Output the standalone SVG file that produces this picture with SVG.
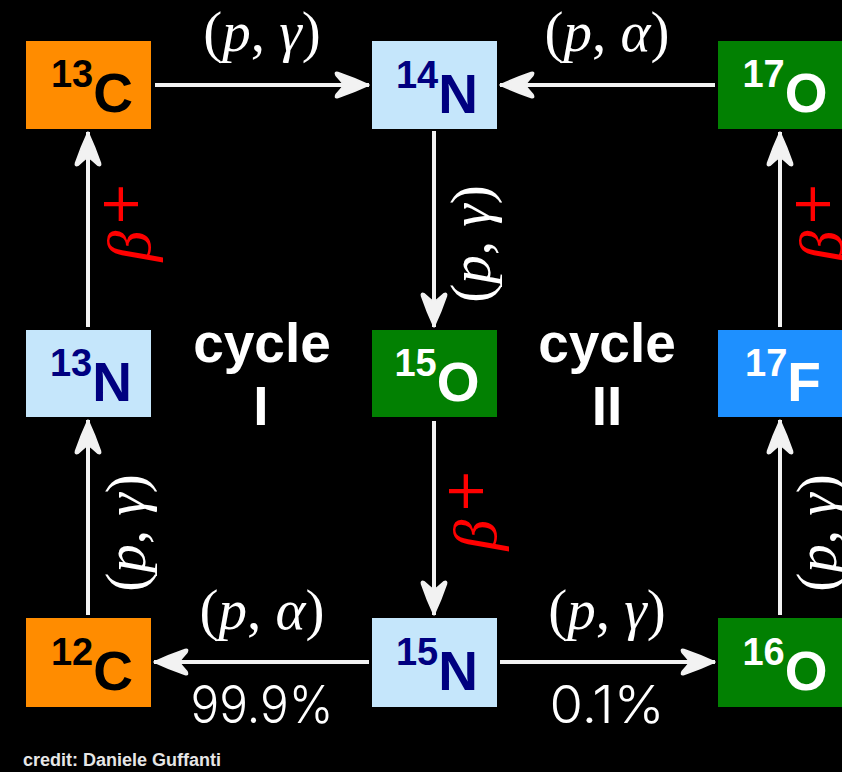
<svg xmlns="http://www.w3.org/2000/svg" width="842" height="772" viewBox="0 0 842 772">
<style>
.box-c{fill:#FF8C00}
.box-n{fill:#C5E6FB}
.box-o{fill:#028002}
.box-f{fill:#1E90FF}
.iso{font-family:"Liberation Sans",Arial,sans-serif;font-weight:bold;text-anchor:middle}
.sup{font-size:38px}
.el{font-size:55px}
.edge{stroke:#F2F2F2;stroke-width:4;fill:none;marker-end:url(#ah)}
.math{font-family:"Liberation Serif","Times New Roman",serif;font-size:57px;fill:#FFFFFF;text-anchor:middle}
.beta{font-family:"Liberation Serif","Times New Roman",serif;font-style:italic;font-size:62px;fill:#FF0000;text-anchor:middle}
.plus{font-family:"DejaVu Serif",serif;font-size:54px;fill:#FF0000;text-anchor:middle}
.cyc{font-family:"Liberation Sans",Arial,sans-serif;font-weight:bold;font-size:55px;fill:#FFFFFF;text-anchor:middle}
.pct{font-family:Inter,"Liberation Sans",sans-serif;font-weight:300;font-size:52px;fill:#FFFFFF;text-anchor:middle}
.credit{font-family:"Liberation Sans",Arial,sans-serif;font-weight:bold;font-size:18px;fill:#E6E6E6}
</style>
<defs>
<marker id="ah" markerUnits="userSpaceOnUse" viewBox="-37 -15 39 30" refX="0" refY="0" markerWidth="39" markerHeight="30" orient="auto" overflow="visible">
<path d="M0,0 Q-15,-7 -31,-12.5 Q-35,-13.5 -33,-9.5 Q-28,-4 -25,0 Q-28,4 -33,9.5 Q-35,13.5 -31,12.5 Q-15,7 0,0 Z" fill="#F2F2F2" stroke="#F2F2F2" stroke-width="1.5" stroke-linejoin="round"/>
</marker>
</defs>
<rect x="0" y="0" width="842" height="772" fill="#000000"/>

<g id="connectors">
<path class="edge" d="M155,85 L369,85"/>
<path class="edge" d="M715,85 L500,85"/>
<path class="edge" d="M434,131 L434,327"/>
<path class="edge" d="M434,421 L434,615"/>
<path class="edge" d="M369,662 L154,662"/>
<path class="edge" d="M500,662 L715,662"/>
<path class="edge" d="M88,615 L88,420"/>
<path class="edge" d="M88,327 L88,132"/>
<path class="edge" d="M780,615 L780,420"/>
<path class="edge" d="M780,327 L780,132"/>
</g>

<g id="labels">
<text class="math" x="262" y="51">(<tspan font-style="italic">p</tspan>, <tspan font-style="italic">γ</tspan>)</text>
<text class="math" x="607" y="51">(<tspan font-style="italic">p</tspan>, <tspan font-style="italic">α</tspan>)</text>
<text class="math" x="262" y="629">(<tspan font-style="italic">p</tspan>, <tspan font-style="italic">α</tspan>)</text>
<text class="math" x="607" y="629">(<tspan font-style="italic">p</tspan>, <tspan font-style="italic">γ</tspan>)</text>
<text class="math" transform="translate(490,244) rotate(-90)">(<tspan font-style="italic">p</tspan>, <tspan font-style="italic">γ</tspan>)</text>
<text class="math" transform="translate(145,533) rotate(-90)">(<tspan font-style="italic">p</tspan>, <tspan font-style="italic">γ</tspan>)</text>
<text class="math" transform="translate(836,533) rotate(-90)">(<tspan font-style="italic">p</tspan>, <tspan font-style="italic">γ</tspan>)</text>
<text class="beta" transform="translate(150,246) rotate(-90)">β</text>
<text class="plus" transform="translate(138,204) rotate(-90)">+</text>
<text class="beta" transform="translate(496,535) rotate(-90)">β</text>
<text class="plus" transform="translate(483,491) rotate(-90)">+</text>
<text class="beta" transform="translate(842,246) rotate(-90)">β</text>
<text class="plus" transform="translate(830,204) rotate(-90)">+</text>
<text class="cyc" x="262" y="362">cycle</text>
<text class="cyc" x="261" y="425">I</text>
<text class="cyc" x="607" y="362">cycle</text>
<text class="cyc" x="607" y="425">II</text>
<text class="pct" x="262" y="723" textLength="143" lengthAdjust="spacingAndGlyphs">99.9%</text>
<text class="pct" x="607" y="723" textLength="115" lengthAdjust="spacingAndGlyphs">0.1%</text>
<text class="credit" x="23" y="766">credit: Daniele Guffanti</text>
</g>

<g id="C13">
<rect class="box-c" x="26" y="41" width="125" height="88"/>
<text class="iso" x="92" y="112" fill="#000000"><tspan class="sup" dy="-25">13</tspan><tspan class="el" dy="25">C</tspan></text>
</g>
<g id="N14">
<rect class="box-n" x="372" y="41" width="125" height="88"/>
<text class="iso" x="437" y="113" fill="#000080"><tspan class="sup" dy="-25">14</tspan><tspan class="el" dy="25">N</tspan></text>
</g>
<g id="O17">
<rect class="box-o" x="718" y="41" width="125" height="88"/>
<text class="iso" x="785" y="112" fill="#FFFFFF"><tspan class="sup" dy="-25">17</tspan><tspan class="el" dy="25">O</tspan></text>
</g>
<g id="N13">
<rect class="box-n" x="26" y="330" width="125" height="87"/>
<text class="iso" x="91" y="401" fill="#000080"><tspan class="sup" dy="-25">13</tspan><tspan class="el" dy="25">N</tspan></text>
</g>
<g id="O15">
<rect class="box-o" x="372" y="330" width="125" height="87"/>
<text class="iso" x="437" y="401" fill="#FFFFFF"><tspan class="sup" dy="-25">15</tspan><tspan class="el" dy="25">O</tspan></text>
</g>
<g id="F17">
<rect class="box-f" x="718" y="330" width="125" height="87"/>
<text class="iso" x="783" y="401" fill="#FFFFFF"><tspan class="sup" dy="-25">17</tspan><tspan class="el" dy="25">F</tspan></text>
</g>
<g id="C12">
<rect class="box-c" x="26" y="618" width="125" height="89"/>
<text class="iso" x="92" y="690" fill="#000000"><tspan class="sup" dy="-25">12</tspan><tspan class="el" dy="25">C</tspan></text>
</g>
<g id="N15">
<rect class="box-n" x="372" y="618" width="125" height="89"/>
<text class="iso" x="437" y="690" fill="#000080"><tspan class="sup" dy="-25">15</tspan><tspan class="el" dy="25">N</tspan></text>
</g>
<g id="O16">
<rect class="box-o" x="718" y="618" width="125" height="89"/>
<text class="iso" x="785" y="690" fill="#FFFFFF"><tspan class="sup" dy="-25">16</tspan><tspan class="el" dy="25">O</tspan></text>
</g>
</svg>
